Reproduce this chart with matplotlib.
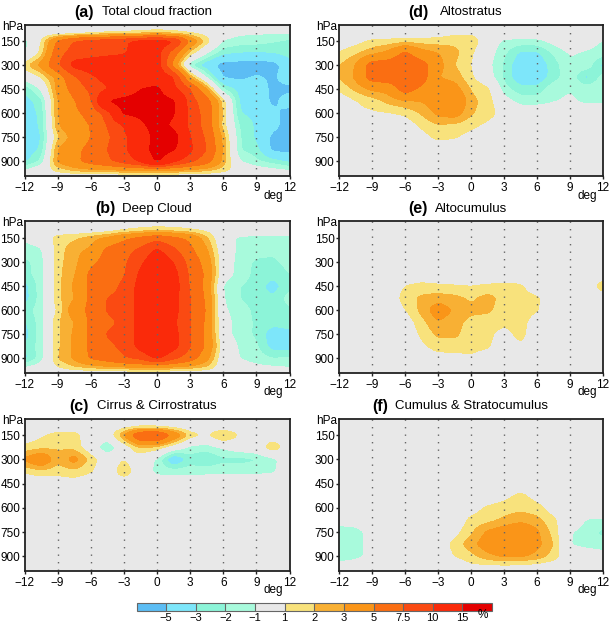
import numpy as np
import matplotlib
matplotlib.use('Agg')
import matplotlib.pyplot as plt
from matplotlib.colors import ListedColormap, BoundaryNorm

plt.rcParams['font.family'] = ['Liberation Sans', 'DejaVu Sans']

# composite grid: degrees from the centre and pressure rows
lon = [-12, -10.5, -9, -7.5, -6, -4.5, -3, -1.5, 0, 1.5, 3, 4.5, 6, 7.5, 9, 10.5, 12]
pres = [45, 100, 150, 225, 300, 375, 450, 525, 600, 675, 750, 825, 900, 950, 990]

levels = [-5, -3, -2, -1, 1, 2, 3, 5, 7.5, 10, 15]
colors = ['#5cbdf4', '#7de6fa', '#8cf4d8', '#a8fadc', '#e8e8e8', '#f8e27c',
          '#f8b034', '#fa9518', '#fa6e12', '#fa4a12', '#fa2a0a', '#e40000']
xticks = [-12, -9, -6, -3, 0, 3, 6, 9, 12]
yticks = [150, 300, 450, 600, 750, 900]

total_cloud = [
    [0]*17,
    [0, 0, 0, 0, 0.6, 0.9, 1.1, 1.3, 1.6, 1.3, 0.9, 0.4, -0.4, -0.8, -0.9, -0.9, -0.9],
    [-1.5, 0.9, 5.2, 7.6, 8.5, 9, 9.5, 11, 11.5, 10.5, 4.5, 1.5, -1.1, -1.5, -1.6, -1.9, -2.3],
    [-1.3, 1.3, 6.5, 8.5, 9, 9.5, 9.8, 11, 11, 6, 1.5, -1, -2.8, -3.1, -3.2, -3, -2.6],
    [1.6, 3.5, 7, 11, 11.5, 11.5, 11.5, 11.5, 11.5, 4, -2, -4, -6, -6, -6, -6, -3.5],
    [-0.5, 1, 3.5, 7, 9.5, 11, 11.5, 12, 12, 10, 2.5, -1.2, -5.2, -5.5, -4.8, -5.3, -4],
    [-2.8, -1, 3.5, 5.8, 8, 9.8, 11.5, 15, 16, 10.5, 7.6, 3, -2, -3.5, -3.8, -5.5, -5.5],
    [-3.6, -2.5, 3, 4.8, 7, 15.2, 16.5, 17, 17, 15.5, 8.5, 6, 1.5, -3.3, -3.4, -5.5, -4],
    [-3.6, -2.8, 3, 4.6, 5.5, 8.5, 15.5, 16, 17, 15.5, 9, 6.5, 1.8, -3, -3.3, -4.5, -5.8],
    [-3.6, -2.9, 2.8, 4.4, 5, 7.6, 10, 14, 17, 14, 9, 6.5, 1.5, -2.2, -3.2, -4.5, -5.8],
    [-5.3, -3, 1.8, 3.5, 5, 7, 9.5, 11.5, 17, 17, 10, 7, 2.5, -2, -3.2, -5.5, -5.8],
    [-4, -2.8, 3, 4.5, 5.5, 7.5, 9.5, 12, 17.5, 15.5, 10.5, 7.5, 2.8, -2, -2.6, -5.5, -5.8],
    [-3.3, -1.8, 3.2, 4.5, 5.8, 7, 8.5, 10.5, 15.5, 10.5, 8, 6, 2.5, -1, -1.8, -2.5, -3.3],
    [-1.2, 0, 1.5, 2.5, 3, 3, 3.5, 3.5, 3.5, 3.5, 3, 2.5, 1.5, 0.3, -0.5, -0.8, -1.2],
    [0]*17,
]

deep_cloud = [
    [0]*17,
    [0, 0, 0, 0, 0, 0.3, 0.9, 1.3, 1.6, 1.4, 1.1, 0.6, 0, -0.3, -0.3, -0.3, -0.3],
    [-0.8, -0.3, 1.5, 1.8, 2.5, 3.3, 4.5, 5.5, 6.5, 5.5, 4.5, 2.2, -0.5, -1.2, -1.3, -1.3, -1.3],
    [-1.5, -1.2, 1.5, 2.6, 3.2, 5.5, 6.5, 8, 10.5, 8, 5.5, 3.2, -0.2, -1.3, -1.6, -1.8, -1.5],
    [-2.3, -1.5, 1.7, 2.5, 4.5, 5.8, 7, 9.5, 12, 10, 6.5, 4, -0.1, -1.5, -2.2, -2.2, -1.7],
    [-2.4, -1.5, 1.7, 2.8, 5.5, 6.5, 7.2, 10.5, 12.5, 11, 7, 4.5, -0.3, -1.5, -2.3, -2.6, -2],
    [-3.5, -1.5, 1.6, 3.2, 5.5, 6.5, 8, 11, 13, 11.5, 7.2, 4.2, -1.2, -2, -2.4, -3.6, -2.2],
    [-3.6, -1.5, 1.7, 2.9, 5.5, 7.6, 8, 11, 13, 11, 7.5, 4.5, -1, -2, -2.6, -2.8, -1.6],
    [-2.5, -1.5, 1.2, 4, 5.5, 7.7, 8, 11, 13, 11, 7.6, 4.8, -0.8, -1.5, -2.3, -2.6, -2.2],
    [-3.2, -1.5, 1.9, 2.9, 5.4, 7, 8, 11, 13, 10.5, 7.5, 4.5, -0.6, -1.4, -2.2, -2.6, -2.5],
    [-3.6, -1.5, 1.7, 3.2, 5.5, 7.7, 8, 11, 13, 11, 7.5, 4.5, -0.5, -1.5, -2.2, -3.8, -3.4],
    [-3, -1.5, 1.8, 3.2, 5.5, 7, 8, 11, 13, 11, 7.6, 4.5, 0.2, -1.2, -1.8, -3.6, -3.6],
    [-3.4, -1.5, 2, 3.2, 5.2, 6, 7.2, 8, 10.5, 8, 6, 3.5, -0.2, -1, -1.5, -2, -1.8],
    [-1.2, -0.5, 1, 2, 2.5, 3, 3.3, 3.5, 3.8, 3.2, 2.8, 2, 0, -0.5, -0.8, -1, -1.2],
    [0]*17,
]

cirrus = [
    [0]*17,
    [0, 0, 0, 0, 0, 0, 0.5, 1, 0.9, 0.6, 0, 0, 0, 0, 0, 0, 0],
    [0, 0.8, 1.5, 1.5, 0, 0, 3, 7.5, 8, 4.5, 1.6, 0.8, 2.5, 0.8, 0, 0, 0],
    [1.3, 1.6, 1.9, 1.6, 0, -2.2, 0, 2, 1.6, 0, -1.4, -1.6, -0.8, -0.2, 0, 1.9, 0],
    [3.2, 4.6, 2.2, 3.6, 1.6, 0, 1, 0, -1.2, -4.5, -2.5, -3, -2.3, -2.4, -2.1, -1.4, 0],
    [1.1, 1.6, 1.4, 1.6, 1.1, 0, 1.8, 0, -1.4, -1.5, -1.5, -1.4, -1.3, -1.3, -1.3, -1.2, 0],
    [0, 0, 0.2, 0.4, 0, 0, 0, 0, 0, 0, 0, 0, 0, 0, 0, 0, 0],
    [0]*17, [0]*17, [0]*17, [0]*17, [0]*17, [0]*17, [0]*17, [0]*17,
]

altostratus = [
    [0]*17,
    [0, 0, 0, 0, 0, 0, 0.3, 0.7, 0.7, 0, 0, 0, 0, 0, 0, 0, 0],
    [0, 0.5, 1.2, 1.3, 1.5, 1.5, 1.5, 1.7, 1.8, 0, -1.3, -1.4, -1.4, -0.6, 0, -0.4, -1.1],
    [1.1, 1.8, 2.6, 3.4, 5.5, 3.6, 3, 2.3, 1.2, -0.4, -1.8, -3.3, -3.3, -1.9, -0.9, -1.2, -1.5],
    [1.9, 3, 6, 6.2, 6.5, 6, 3.5, 2, 1, -0.6, -2.2, -4, -4, -2.5, -1.2, -1.3, -3.5],
    [2, 3.2, 6, 6.2, 6.5, 6, 3, 2.6, 1.2, -0.3, -2.2, -4, -4, -2.5, -1.3, -3.5, -1.5],
    [1.2, 2.2, 3.2, 3.5, 6, 4.5, 3.9, 3.6, 1.9, 1.3, -1.6, -2.6, -2.6, -1.3, -1.1, -1.3, -1.3],
    [0, 0.9, 1.4, 2.3, 2.8, 3, 3.8, 4.8, 2.3, 1.6, -0.4, -1.5, -1.5, -1.1, -0.8, -1.3, -1.3],
    [0, 0.8, 0.8, 0.9, 1.2, 2.1, 3.3, 3.7, 2.1, 1.5, 0.5, 0, 0, 0, 0, 0, 0],
    [0, 0, 0, 0, 0.2, 1.2, 1.9, 1.7, 1.3, 0.7, 0, 0, 0, 0, 0, 0, 0],
    [0, 0, 0, 0, 0, 0.5, 1.3, 1.1, 0.5, 0, 0, 0, 0, 0, 0, 0, 0],
    [0]*17, [0]*17, [0]*17, [0]*17,
]

altocumulus = [
    [0]*17, [0]*17, [0]*17, [0]*17, [0]*17, [0]*17,
    [0, 0, 0, 0, 1, 1.4, 1.2, 1.1, 1, 1.2, 1.3, 1.2, 0, 0, 0, 0, 1.7],
    [0, 0, 0, 0, 1.5, 2.2, 2.5, 2.3, 1.8, 2.4, 1.6, 1.5, 1.2, 0, 0, 0, 0],
    [0, 0, 0, 0, 0.9, 2.3, 3.8, 2.8, 2.3, 2.2, 1.5, 1.4, 1.1, 0, 0, 0, 0],
    [0, 0, 0, 0, 0.2, 1.6, 2.9, 2.4, 1.6, 1.4, 1.3, 1.4, 0.4, 0, 0, 0, 0],
    [0, 0, 0, 0, 0, 1.2, 2.2, 2.2, 1.5, 1.3, 0.5, 1.4, 0, 0, 0, 0, 0],
    [0, 0, 0, 0, 0, 0.7, 1.5, 1.5, 1.5, 1.2, 0, 0.8, 0, 0, 0, 0, 0],
    [0, 0, 0, 0, 0, 0, 0.4, 0.5, 0.7, 0, 0, 0, 0, 0, 0, 0, 0],
    [0]*17, [0]*17,
]

cumulus = [
    [0]*17, [0]*17, [0]*17, [0]*17, [0]*17, [0]*17, [0]*17,
    [0, 0, 0, 0, 0, 0, 0, 0, 0, 0, 0.6, 1.3, 0.5, 0, 0, 0, 0],
    [0, 0, 0, 0, 0, 0, 0, 0, 0.4, 1.2, 1.5, 1.7, 1.4, 0.3, 0, 0, 0],
    [-0.5, -0.3, 0, 0, 0, 0, 0, 0, 1.3, 1.6, 2.2, 2.6, 2.3, 1.2, 0, -1.1, -1.2],
    [-1.6, -1.5, -0.5, 0, 0, 0, 0, 0.5, 1.8, 3.2, 3.8, 4.5, 3.2, 1.6, -0.9, -1.5, -2.3],
    [-1.7, -1.5, -0.5, 0, 0, 0, 0, 1.4, 2.6, 3.8, 4.5, 4.5, 3.4, 2, -1, -1.5, -1.6],
    [-1.6, -1.4, -0.6, 0, 0, 0, 0, 1, 1.6, 2.6, 3.2, 3.2, 2.6, 1.5, 0, 0, -0.5],
    [-0.8, -0.4, 0, 0, 0, 0, 0, 0, 0.9, 1, 1.1, 1, 0.8, 0.4, 0, 0, 0],
    [0]*17,
]

W, H = 611, 622
fig = plt.figure(figsize=(W/100, H/100), dpi=100)
cmap = ListedColormap(colors[1:-1])
cmap.set_under(colors[0])
cmap.set_over(colors[-1])
norm = BoundaryNorm(levels, cmap.N)

fine_lon = np.arange(-12, 12.01, 0.1)
fine_pres = np.arange(45, 991, 5.0)


def blur(a, n, axis):
    # moving average, two passes, so the contours round off like the original
    kernel = np.ones(n) / n
    pad = [(n, n) if i == axis else (0, 0) for i in range(2)]
    a = np.pad(a, pad, mode='edge')
    for _ in range(2):
        a = np.apply_along_axis(np.convolve, axis, a, kernel, mode='same')
    return a[n:-n, :] if axis == 0 else a[:, n:-n]


def regrid(field):
    field = np.array(field, dtype=float)
    z = np.array([np.interp(fine_pres, pres, field[:, j]) for j in range(field.shape[1])]).T
    z = np.array([np.interp(fine_lon, lon, row) for row in z])
    return blur(blur(z, 5, 1), 5, 0)


def panel(box, field, tag, name, tag_x, name_x, title_y):
    x0, y0, x1, y1 = box
    ax = fig.add_axes([x0/W, 1-y1/H, (x1-x0)/W, (y1-y0)/H])
    ax.set_facecolor('#e8e8e8')
    cf = ax.contourf(fine_lon, fine_pres, regrid(field), levels=levels, cmap=cmap, norm=norm, extend='both')
    for x in xticks[1:-1]:
        ax.plot([x, x], [47, 988], color='#666666', lw=1, ls=(0, (1, 4.4)))
    ax.set_xlim(-12, 12)
    ax.set_ylim(988, 47)
    ax.set_xticks(xticks)
    ax.set_yticks(yticks)
    ax.tick_params(labelsize=8.5, length=2.5, width=1, color='#222222')
    ax.tick_params(axis='x', pad=2.5)
    ax.tick_params(axis='y', pad=0.6)
    for s in ax.spines.values():
        s.set_linewidth(1.3)
        s.set_color('#222222')
    fig.text((x0-1.5)/W, 1-(y0+2)/H, 'hPa', ha='right', va='center', fontsize=8.5)
    fig.text((x1-6)/W, 1-(y1+20)/H, 'deg', ha='right', va='center', fontsize=8.5)
    fig.text(tag_x/W, 1-title_y/H, tag, ha='left', va='center', fontsize=11.5, fontweight='bold')
    fig.text(name_x/W, 1-title_y/H, name, ha='left', va='center', fontsize=9.5)
    return cf


panel((24.5, 24.5, 289.5, 175.5), total_cloud, '(a)', 'Total cloud fraction', 74, 102, 12)
panel((24.5, 221.5, 289.5, 372.5), deep_cloud, '(b)', 'Deep Cloud', 95, 122, 209)
panel((24.5, 418.5, 289.5, 570.5), cirrus, '(c)', 'Cirrus & Cirrostratus', 69, 97, 406)
panel((339, 24.5, 603, 175.5), altostratus, '(d)', 'Altostratus', 408, 440, 12)
panel((339, 221.5, 603, 372.5), altocumulus, '(e)', 'Altocumulus', 408, 435, 209)
cf = panel((339, 418.5, 603, 570.5), cumulus, '(f)', 'Cumulus & Stratocumulus', 372, 395, 406)

cax = fig.add_axes([136.5/W, 1-611/H, (492-136.5)/W, 8.5/H])
cb = fig.colorbar(cf, cax=cax, orientation='horizontal', spacing='uniform',
                  extend='both', extendrect=True, extendfrac='auto', drawedges=True)
cb.set_ticks(levels)
cb.set_ticklabels(['\u22125', '\u22123', '\u22122', '\u22121', '1', '2', '3', '5', '7.5', '10', '15'])
cb.ax.tick_params(labelsize=8, length=0, pad=1.5)
cb.outline.set_edgecolor('#666666')
cb.outline.set_linewidth(0.8)
cb.dividers.set_color('#666666')
cb.dividers.set_linewidth(0.8)
fig.text(483/W, 1-615/H, '%', ha='center', va='center', fontsize=8.5)

fig.savefig('out.png', dpi=100)
